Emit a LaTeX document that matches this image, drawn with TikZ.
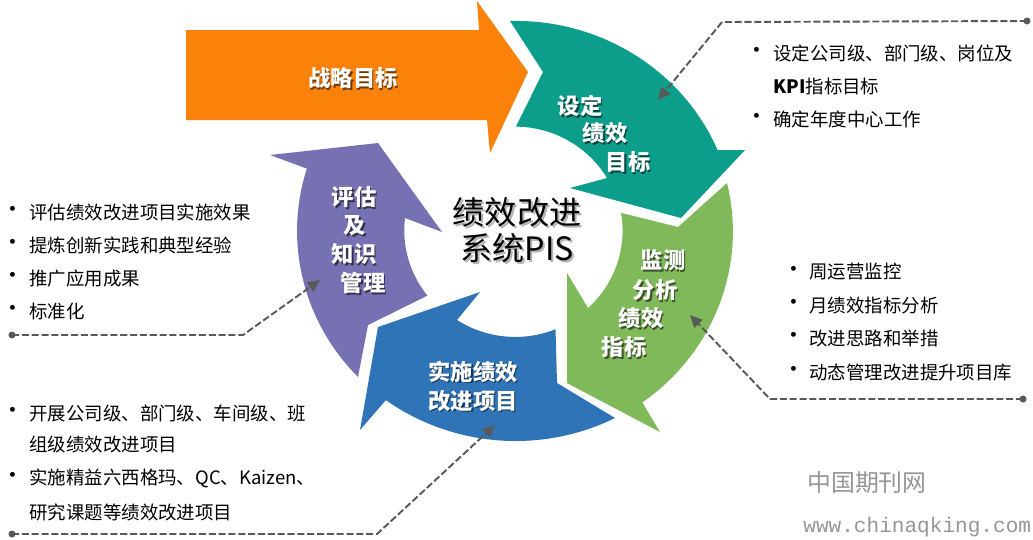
\documentclass[tikz,border=0pt]{standalone}
\usepackage{fontspec}
\setmainfont{Noto Sans CJK SC}
\newfontfamily\urlfont{Liberation Mono}
\usetikzlibrary{arrows.meta}

\definecolor{strategyorange}{RGB}{250,130,10}
\definecolor{setteal}{RGB}{12,158,138}
\definecolor{monitorgreen}{RGB}{128,185,89}
\definecolor{implblue}{RGB}{46,116,182}
\definecolor{evalpurple}{RGB}{118,113,178}
\definecolor{linegray}{RGB}{89,89,89}
\definecolor{wmgray}{RGB}{150,150,150}

\tikzset{
  lbl/.style={text=white, inner sep=0pt, align=center,
    font=\fontsize{12.7}{16.4}\selectfont\bfseries},
  lblshadow/.style={lbl, text=black, opacity=0.55, xshift=0.9pt, yshift=-0.9pt},
  item/.style={anchor=west, inner sep=0pt, font=\fontsize{10.5}{12}\selectfont},
  bulletmark/.style={inner sep=0pt, font=\fontsize{13}{14}\selectfont},
  callout/.style={draw=linegray, line width=1.1pt, dash pattern=on 4pt off 1.6pt,
    -{Triangle[length=7pt,width=6.5pt]}}
}

% white label with a dark drop shadow
\newcommand{\shadowlabel}[3]{%
  \node[lblshadow] (#1-s) at (#2) {#3};
  \node[lbl] (#1) at (#2) {#3};}

\begin{document}
\begin{tikzpicture}[x=0.02cm, y=-0.02cm]
  \fill[white] (0,0) rectangle (1033,539);

  % strategy arrow
  \fill[strategyorange] (186,30) -- (479,30) -- (477,1) -- (528,72) -- (490,153) -- (487,120) -- (186,120) -- cycle;

  % cycle arrows
  \fill[setteal] (510,21) arc[start angle=-91.5, end angle=-22.8, x radius=219, y radius=211]
    -- (745,150) -- (681,218) -- (570,188)
    -- (607,178) arc[start angle=-30.7, end angle=-89.5, x radius=107, y radius=105]
    -- (543,72) -- cycle;
  \fill[monitorgreen] (727,183) arc[start angle=-13.3, end angle=54.1, x radius=219, y radius=211]
    -- (660,432) -- (567,383) -- (567,273)
    -- (588,308) arc[start angle=47.4, end angle=-9.8, x radius=107, y radius=105]
    -- (678,227) -- cycle;
  \fill[implblue] (615,418) arc[start angle=63, end angle=126.3, x radius=219, y radius=211]
    -- (360,430) -- (378,327) -- (480,292)
    -- (457,320) arc[start angle=123, end angle=67.9, x radius=107, y radius=105]
    -- (557,383) -- cycle;
  \fill[evalpurple] (358,377) arc[start angle=136.2, end angle=197.2, x radius=219, y radius=211]
    -- (270,155) -- (378,143) -- (442,232)
    -- (405,218) arc[start angle=186.8, end angle=141.6, x radius=107, y radius=105]
    -- (368,325) -- cycle;

  % labels on the arrows
  \shadowlabel{strategy}{353,78}{战略目标}
  \shadowlabel{set1}{580,106}{设定}
  \shadowlabel{set2}{605,133}{绩效}
  \shadowlabel{set3}{628,162}{目标}
  \shadowlabel{mon1}{663,260}{监测}
  \shadowlabel{mon2}{655,290}{分析}
  \shadowlabel{mon3}{641,318}{绩效}
  \shadowlabel{mon4}{624,347}{指标}
  \shadowlabel{impl}{473,386}{实施绩效\\改进项目}
  \shadowlabel{eval1}{354,197}{评估}
  \shadowlabel{eval2}{355,226}{及}
  \shadowlabel{eval3}{354,254}{知识}
  \shadowlabel{eval4}{363,283}{管理}

  % centre title
  \node[inner sep=0pt, align=center, text=black, opacity=0.3, xshift=1.2pt, yshift=-1.2pt,
    font=\fontsize{18.3}{20.4}\selectfont] (core-s) at (517,230) {绩效改进\\系统PIS};
  \node[inner sep=0pt, align=center, font=\fontsize{18.3}{20.4}\selectfont] (core) at (517,230) {绩效改进\\系统PIS};

  % top right list
  \node[bulletmark] (set-b1) at (757,53) {\textbullet};
  \node[item] (set-i1) at (773,53) {设定公司级、部门级、岗位及};
  \node[item] (set-i2) at (773,86) {\textbf{KPI}指标目标};
  \node[bulletmark] (set-b3) at (757,119) {\textbullet};
  \node[item] (set-i3) at (773,119) {确定年度中心工作};

  % right list
  \foreach \n/\yy/\txt in {1/272/周运营监控, 2/305/月绩效指标分析, 3/338/改进思路和举措, 4/372/动态管理改进提升项目库}{
    \node[bulletmark] (mon-b\n) at (794,\yy) {\textbullet};
    \node[item] (mon-i\n) at (809,\yy) {\txt};
  }

  % left list
  \foreach \n/\yy/\txt in {1/212/评估绩效改进项目实施效果, 2/245/提炼创新实践和典型经验, 3/278/推广应用成果, 4/311/标准化}{
    \node[bulletmark] (eval-b\n) at (13,\yy) {\textbullet};
    \node[item] (eval-i\n) at (29,\yy) {\txt};
  }

  % bottom left list
  \node[bulletmark] (impl-b1) at (13,413) {\textbullet};
  \node[item] (impl-i1) at (29,413) {开展公司级、部门级、车间级、班};
  \node[item] (impl-i2) at (29,445) {组级绩效改进项目};
  \node[bulletmark] (impl-b3) at (13,478) {\textbullet};
  \node[item] (impl-i3) at (29,478) {实施精益六西格玛、QC、Kaizen、};
  \node[item] (impl-i4) at (29,512) {研究课题等绩效改进项目};

  % callout lines
  \coordinate (set-dot) at (1027,21);
  \coordinate (set-bend) at (722,22);
  \coordinate (set-tip) at (658,100);
  \coordinate (mon-dot) at (1023,399);
  \coordinate (mon-bend) at (770,399);
  \coordinate (mon-tip) at (690,315);
  \coordinate (eval-dot) at (12,335);
  \coordinate (eval-bend) at (243,335);
  \coordinate (eval-tip) at (320,280);
  \coordinate (impl-dot) at (12,534);
  \coordinate (impl-bend) at (377,534);
  \coordinate (impl-tip) at (495,425);
  \foreach \c in {set, mon, eval, impl}{
    \draw[callout] (\c-dot) -- (\c-bend) -- (\c-tip);
    \fill[linegray] (\c-dot) circle (3.5);
  }

  % watermark
  \node[text=wmgray, inner sep=0pt, font=\fontsize{13.6}{14}\selectfont] (wm-cn) at (867,482) {中国期刊网};
  \node[text=wmgray, inner sep=0pt, anchor=west, font=\urlfont\fontsize{12}{13}\selectfont] (wm-url) at (803,527) {www.chinaqking.com};
\end{tikzpicture}
\end{document}
